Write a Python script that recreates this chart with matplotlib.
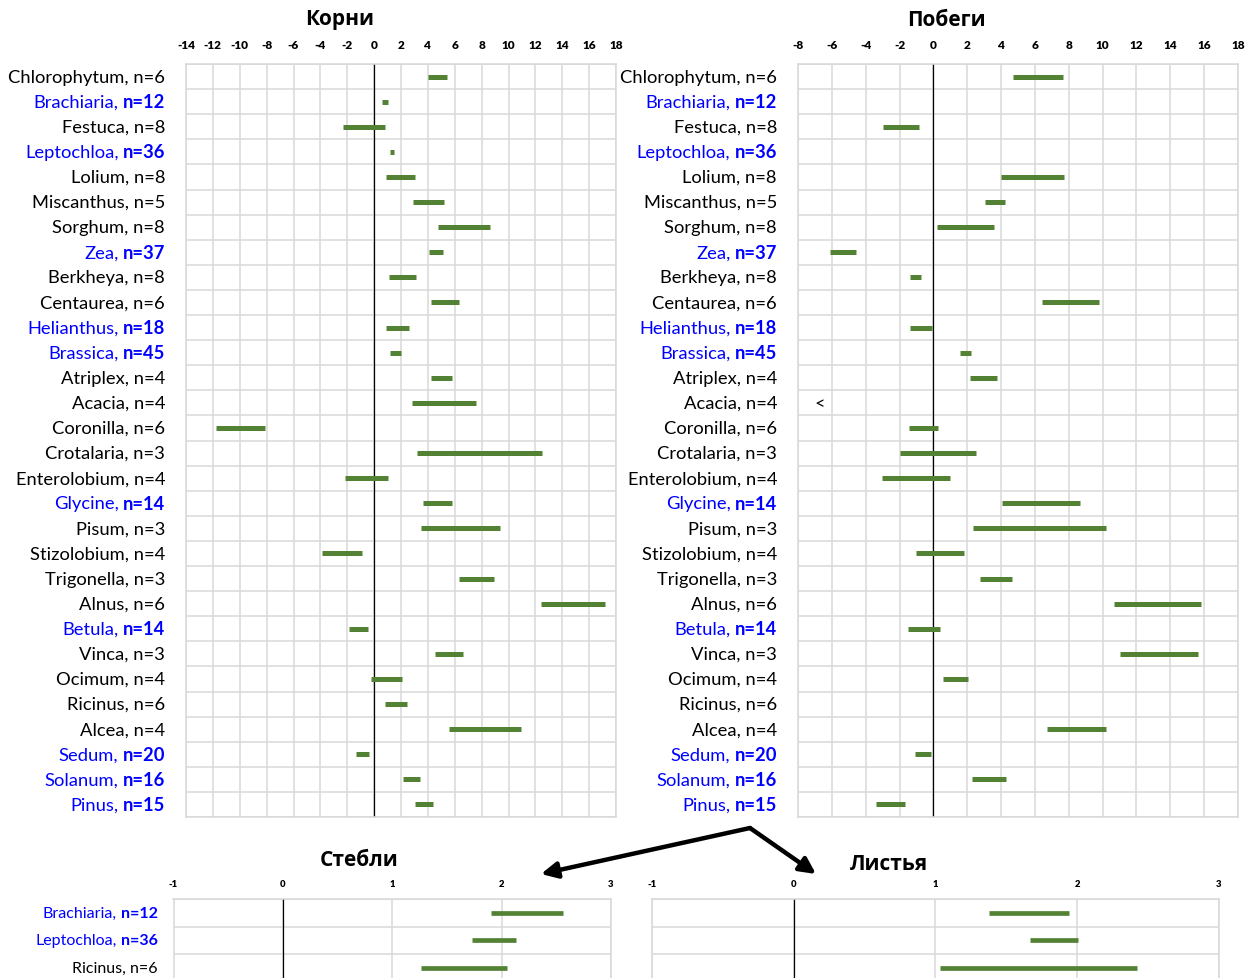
import numpy as np
import matplotlib
matplotlib.use("Agg")
import matplotlib.pyplot as plt
from matplotlib.patches import FancyArrowPatch

# ---- data -------------------------------------------------------------
species = ['Chlorophytum', 'Brachiaria', 'Festuca', 'Leptochloa', 'Lolium',
           'Miscanthus', 'Sorghum', 'Zea', 'Berkheya', 'Centaurea',
           'Helianthus', 'Brassica', 'Atriplex', 'Acacia', 'Coronilla',
           'Crotalaria', 'Enterolobium', 'Glycine', 'Pisum', 'Stizolobium',
           'Trigonella', 'Alnus', 'Betula', 'Vinca', 'Ocimum', 'Ricinus',
           'Alcea', 'Sedum', 'Solanum', 'Pinus']
n_obs = [6, 12, 8, 36, 8, 5, 8, 37, 8, 6, 18, 45, 4, 4, 6, 3, 4, 14, 3, 4,
         3, 6, 14, 3, 4, 6, 4, 20, 16, 15]
highlighted = ['Brachiaria', 'Leptochloa', 'Zea', 'Helianthus', 'Brassica',
               'Glycine', 'Betula', 'Sedum', 'Solanum', 'Pinus']

# Roots (Корни): interval low / high
roots_low = [4.0, 0.6, -2.3, 1.2, 0.9, 2.9, 4.75, 4.05, 1.1, 4.25,
             0.9, 1.2, 4.25, 2.8, -11.8, 3.2, -2.2, 3.6, 3.5, -3.9,
             6.3, 12.45, -1.85, 4.55, -0.25, 0.8, 5.55, -1.35, 2.15, 3.05]
roots_high = [5.45, 1.05, 0.8, 1.5, 3.05, 5.2, 8.6, 5.1, 3.1, 6.35,
              2.6, 2.0, 5.8, 7.55, -8.1, 12.5, 1.0, 5.8, 9.4, -0.9,
              8.95, 17.15, -0.45, 6.65, 2.1, 2.45, 10.9, -0.35, 3.45, 4.4]

# Shoots (Побеги): interval low / high, nan = no interval
nan = np.nan
shoots_low = [4.7, nan, -2.95, nan, 4.0, 3.05, 0.2, -6.1, -1.4, 6.4,
              -1.4, 1.55, 2.15, nan, -1.45, -2.0, -3.05, 4.05, 2.35, -1.0,
              2.75, 10.7, -1.5, 11.05, 0.55, nan, 6.7, -1.1, 2.3, -3.4]
shoots_high = [7.65, nan, -0.85, nan, 7.7, 4.25, 3.6, -4.6, -0.75, 9.8,
               -0.1, 2.2, 3.75, nan, 0.3, 2.5, 1.0, 8.65, 10.2, 1.8,
               4.65, 15.8, 0.4, 15.65, 2.05, nan, 10.2, -0.15, 4.3, -1.7]
shoots_below_axis = ['Acacia']

# Stems (Стебли) and leaves (Листья)
organ_species = ['Brachiaria', 'Leptochloa', 'Ricinus']
organ_n = [12, 36, 6]
stems_low = [1.9, 1.73, 1.26]
stems_high = [2.56, 2.13, 2.05]
leaves_low = [1.38, 1.67, 1.03]
leaves_high = [1.94, 2.01, 2.42]

roots_ticks = list(range(-14, 19, 2))
shoots_ticks = list(range(-8, 19, 2))
organ_ticks = [-1, 0, 1, 2, 3]

# ---- style ------------------------------------------------------------
W, H = 1259, 979
BAR = '#548235'
GRID = '#d9d9d9'
BLUE = '#0000ff'
LABEL_FONT = ['Lato', 'DejaVu Sans']
TITLE_FONT = ['Open Sans', 'Noto Sans', 'DejaVu Sans']

fig = plt.figure(figsize=(W / 100, H / 100), dpi=100)
fig.patch.set_facecolor('white')


def px_axes(x0, x1, ytop, ybot):
    return fig.add_axes([x0 / W, 1 - ybot / H, (x1 - x0) / W, (ybot - ytop) / H])


def style_axes(ax, xlim, ticks, nrows, tick_size, pad):
    ax.set_xlim(*xlim)
    ax.set_ylim(nrows - 0.5, -0.5)
    ax.xaxis.tick_top()
    ax.set_xticks(ticks)
    ax.set_xticklabels([str(t) for t in ticks], fontsize=tick_size,
                       fontweight='heavy', family=LABEL_FONT)
    ax.tick_params(axis='x', length=0, pad=pad)
    ax.set_yticks([])
    ax.set_yticks(np.arange(nrows + 1) - 0.5, minor=True)
    ax.tick_params(axis='y', which='both', length=0, labelleft=False)
    ax.grid(True, axis='x', which='major', color=GRID, lw=1.1)
    ax.grid(True, axis='y', which='minor', color=GRID, lw=1.1)
    ax.set_axisbelow(True)
    for s in ax.spines.values():
        s.set_color(GRID)
        s.set_linewidth(1.1)
    ax.axvline(0, color='black', lw=0.9, zorder=2)


def draw_labels(ax, names, counts, offset, size):
    renderer = fig.canvas.get_renderer()
    for i, (name, n) in enumerate(zip(names, counts)):
        if name in highlighted:
            t = ax.annotate(f'n={n}', xy=(0, i), xycoords=('axes fraction', 'data'),
                            xytext=(-offset, 0), textcoords='offset pixels',
                            ha='right', va='center', fontsize=size,
                            fontweight='bold', color=BLUE, family=LABEL_FONT,
                            annotation_clip=False)
            w = t.get_window_extent(renderer).width
            ax.annotate(f'{name},', xy=(0, i), xycoords=('axes fraction', 'data'),
                        xytext=(-offset - w - 4.0, 0), textcoords='offset pixels',
                        ha='right', va='center', fontsize=size, color=BLUE,
                        family=LABEL_FONT, annotation_clip=False)
        else:
            ax.annotate(f'{name}, n={n}', xy=(0, i), xycoords=('axes fraction', 'data'),
                        xytext=(-offset, 0), textcoords='offset pixels',
                        ha='right', va='center', fontsize=size, color='black',
                        family=LABEL_FONT, annotation_clip=False)


def draw_bars(ax, low, high, lw):
    y = np.arange(len(low))
    lo = np.asarray(low, float)
    hi = np.asarray(high, float)
    ok = ~np.isnan(lo)
    ax.hlines(y[ok], lo[ok], hi[ok], color=BAR, lw=lw, zorder=3,
              capstyle='butt')


# ---- roots ------------------------------------------------------------
ax_r = px_axes(186, 616, 65, 818)
style_axes(ax_r, (-14, 18), roots_ticks, len(species), 8.5, 10)
draw_bars(ax_r, roots_low, roots_high, 3.6)
draw_labels(ax_r, species, n_obs, 21, 13.2)

# ---- shoots -----------------------------------------------------------
ax_s = px_axes(798, 1238, 65, 818)
style_axes(ax_s, (-8, 18), shoots_ticks, len(species), 8.5, 10)
draw_bars(ax_s, shoots_low, shoots_high, 3.6)
draw_labels(ax_s, species, n_obs, 21, 13.2)
for name in shoots_below_axis:
    ax_s.text(-6.7, species.index(name), '<', ha='center', va='center',
              fontsize=13, family=LABEL_FONT)

# ---- stems ------------------------------------------------------------
ax_st = px_axes(173.5, 611, 900, 982.5)
style_axes(ax_st, (-1, 3), organ_ticks, len(organ_species), 6.8, 8)
draw_bars(ax_st, stems_low, stems_high, 3.4)
draw_labels(ax_st, organ_species, organ_n, 15.5, 11.5)

# ---- leaves -----------------------------------------------------------
ax_l = px_axes(651.8, 1218.8, 900, 982.5)
style_axes(ax_l, (-1, 3), organ_ticks, len(organ_species), 6.8, 8)
draw_bars(ax_l, leaves_low, leaves_high, 3.4)

# ---- titles -----------------------------------------------------------
for txt, x, y in [('Корни', 340, 19), ('Побеги', 946, 20),
                  ('Стебли', 359, 861), ('Листья', 889, 865)]:
    fig.text(x / W, 1 - y / H, txt, ha='center', va='center', fontsize=15,
             fontweight='bold', family=TITLE_FONT)

# ---- arrows from shoots to stems / leaves ------------------------------
def fpt(x, y):
    return (x / W, 1 - y / H)


for tip in [(541, 875), (816, 875)]:
    arr = FancyArrowPatch(fpt(750, 829), fpt(*tip), transform=fig.transFigure,
                          arrowstyle='-|>', mutation_scale=24, lw=3.2,
                          color='black', shrinkA=0, shrinkB=0)
    fig.patches.append(arr)

fig.savefig('out.png', dpi=100, facecolor='white')
